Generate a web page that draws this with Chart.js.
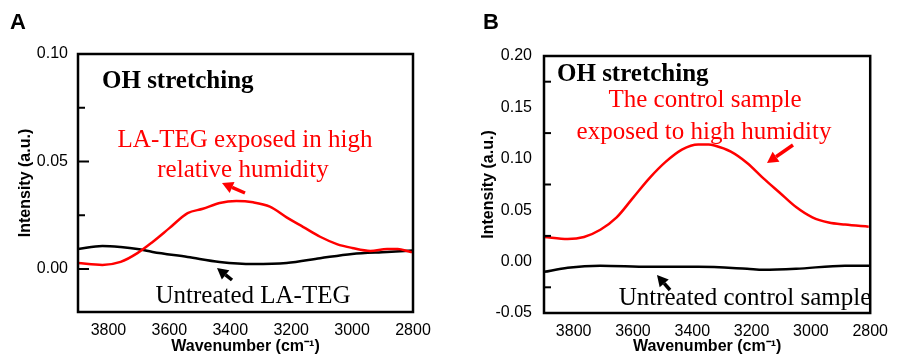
<!DOCTYPE html>
<html>
<head>
<meta charset="utf-8">
<script src="https://cdn.jsdelivr.net/npm/chart.js@4"></script>
<style>
  html, body { margin: 0; padding: 0; background: #fff; overflow: hidden; }
  #wrap { position: relative; width: 897px; height: 356px; }
  .panel { position: absolute; top: 0; height: 356px; }
  #pa { left: 0; width: 450px; }
  #pb { left: 450px; width: 447px; }
</style>
</head>
<body>
<div id="wrap">
  <div class="panel" id="pa"><canvas id="chartA"></canvas></div>
  <div class="panel" id="pb"><canvas id="chartB"></canvas></div>
</div>
<script>
// === DATA ===
const xTicks = [3800, 3600, 3400, 3200, 3000, 2800];

// panel A
const wnRedA = [3900, 3820, 3760, 3705, 3655, 3600, 3540, 3490, 3435, 3380, 3325, 3270, 3215, 3160, 3105, 3050, 3000, 2940, 2885, 2850, 2810, 2800];
const redA = [0.0028, 0.0019, 0.0033, 0.0074, 0.0126, 0.019, 0.026, 0.028, 0.0307, 0.0316, 0.031, 0.029, 0.024, 0.0195, 0.015, 0.0116, 0.0098, 0.0084, 0.0093, 0.0093, 0.008, 0.0078];
const wnBlackA = [3900, 3820, 3760, 3705, 3655, 3540, 3435, 3325, 3215, 3105, 3000, 2885, 2800];
const blackA = [0.0093, 0.0107, 0.0102, 0.0093, 0.0079, 0.0056, 0.0033, 0.0023, 0.0028, 0.005, 0.007, 0.0079, 0.0086];
const yTicksA = [0, 0.05, 0.10];
const yMarksA = [0.075, 0.025];
const yMajorMarksA = [0.05, 0];

// panel B
const wnRedB = [3900, 3820, 3765, 3710, 3655, 3600, 3545, 3490, 3435, 3380, 3345, 3325, 3270, 3215, 3160, 3105, 3050, 2995, 2940, 2885, 2805];
const redB = [0.024, 0.022, 0.024, 0.031, 0.043, 0.062, 0.081, 0.097, 0.109, 0.114, 0.114, 0.113, 0.107, 0.096, 0.081, 0.067, 0.053, 0.043, 0.038, 0.036, 0.034];
const wnBlackB = [3900, 3820, 3710, 3545, 3380, 3215, 3160, 3050, 2885, 2800];
const blackB = [-0.010, -0.006, -0.004, -0.005, -0.005, -0.007, -0.008, -0.007, -0.004, -0.004];
const yTicksB = [-0.05, 0, 0.05, 0.10, 0.15, 0.20];
const yMarksB = [0.175, 0.125, 0.075, 0.025, -0.025];

const SANS = "'Liberation Sans', Arial, sans-serif";
const SERIF = "'Liberation Serif', 'Times New Roman', serif";

const toPts = (xs, ys) => xs.map((x, i) => ({ x: x, y: ys[i] }));

const drawArrow = (ctx, x1, y1, x2, y2, color) => {
    const ang = Math.atan2(y2 - y1, x2 - x1);
    const head = 11, half = 6;
    const bx = x2 - head * Math.cos(ang), by = y2 - head * Math.sin(ang);
    ctx.save();
    ctx.strokeStyle = color;
    ctx.fillStyle = color;
    ctx.lineWidth = 3.5;
    ctx.beginPath();
    ctx.moveTo(x1, y1);
    ctx.lineTo(bx, by);
    ctx.stroke();
    ctx.beginPath();
    ctx.moveTo(x2, y2);
    ctx.lineTo(bx + half * Math.sin(ang), by - half * Math.cos(ang));
    ctx.lineTo(bx - half * Math.sin(ang), by + half * Math.cos(ang));
    ctx.closePath();
    ctx.fill();
    ctx.restore();
};

// frame, inward ticks, panel letter, notes and arrows
const decoPlugin = {
    id: 'deco',
    afterDatasetsDraw(chart, args, opts) {
        const ctx = chart.ctx;
        const a = chart.chartArea;
        const ys = chart.scales.y;
        ctx.save();
        ctx.strokeStyle = '#000';
        ctx.lineWidth = 2.5;
        ctx.strokeRect(a.left, a.top, a.right - a.left, a.bottom - a.top);
        ctx.lineWidth = 2;
        (opts.marks || []).forEach(v => {
            const py = ys.getPixelForValue(v);
            ctx.beginPath(); ctx.moveTo(a.left, py); ctx.lineTo(a.left + 7, py); ctx.stroke();
        });
        (opts.majorMarks || []).forEach(v => {
            const py = ys.getPixelForValue(v);
            ctx.beginPath(); ctx.moveTo(a.left, py); ctx.lineTo(a.left + 11, py); ctx.stroke();
        });
        ctx.textBaseline = 'middle';
        ctx.fillStyle = '#000';
        ctx.textAlign = 'left';
        ctx.font = 'bold 22px ' + SANS;
        ctx.fillText(opts.letter, opts.letterX, 23);
        (opts.notes || []).forEach(n => {
            ctx.font = n.font;
            ctx.fillStyle = n.color;
            ctx.textAlign = n.align;
            ctx.fillText(n.text, n.x, n.y);
        });
        ctx.restore();
        (opts.arrows || []).forEach(ar => drawArrow(ctx, ar[0], ar[1], ar[2], ar[3], ar[4]));
    }
};

const makePanel = (id, p) => {
    const ctx = document.getElementById(id).getContext('2d');
    return new Chart(ctx, {
        type: 'line',
        data: {
            datasets: [
                { data: toPts(p.wnRed, p.red), borderColor: '#ff0000', borderWidth: 2.5, pointRadius: 0, tension: 0.4, cubicInterpolationMode: 'monotone' },
                { data: toPts(p.wnBlack, p.black), borderColor: '#000000', borderWidth: 2.5, pointRadius: 0, tension: 0.4, cubicInterpolationMode: 'monotone' }
            ]
        },
        options: {
            responsive: true,
            maintainAspectRatio: false,
            animation: false,
            events: [],
            layout: { padding: { top: p.top, right: p.right, left: 0, bottom: 0 } },
            plugins: {
                legend: { display: false },
                tooltip: { enabled: false },
                deco: p.deco
            },
            scales: {
                x: {
                    type: 'linear',
                    reverse: true,
                    min: 2800,
                    max: 3900,
                    afterBuildTicks: s => { s.ticks = xTicks.map(v => ({ value: v })); },
                    afterFit: s => { s.height = p.xHeight; },
                    grid: { display: false, drawTicks: false },
                    border: { display: false },
                    ticks: { color: '#000', font: { family: SANS, size: 16 }, padding: 9, maxRotation: 0, autoSkip: false, callback: v => String(v) },
                    title: { display: true, text: 'Wavenumber (cm\u207B\u00B9)', color: '#000', font: { family: SANS, size: 16, weight: 'bold' }, padding: { top: 0, bottom: 0 } }
                },
                y: {
                    min: p.yMin,
                    max: p.yMax,
                    afterBuildTicks: s => { s.ticks = p.yTicks.map(v => ({ value: v })); },
                    afterFit: s => { s.width = p.yWidth; },
                    grid: { display: false, drawTicks: false },
                    border: { display: false },
                    ticks: { color: '#000', font: { family: SANS, size: 16 }, padding: p.yPad, callback: v => v.toFixed(2), autoSkip: false },
                    title: { display: true, text: 'Intensity (a.u.)', color: '#000', font: { family: SANS, size: 16, weight: 'bold' }, padding: { top: p.titlePad, bottom: 0 } }
                }
            }
        },
        plugins: [decoPlugin]
    });
};

const redFont = '25px ' + SERIF;
const blackFont = '25px ' + SERIF;
const boldFont = 'bold 25px ' + SERIF;

makePanel('chartA', {
    wnRed: wnRedA, red: redA, wnBlack: wnBlackA, black: blackA,
    yMin: -0.02, yMax: 0.10, yTicks: yTicksA,
    top: 54, right: 37, xHeight: 44, yWidth: 78, yPad: 10, titlePad: 16,
    deco: {
        letter: 'A', letterX: 10,
        marks: yMarksA, majorMarks: yMajorMarksA,
        notes: [
            { text: 'OH stretching', x: 102, y: 82, font: boldFont, color: '#000', align: 'left' },
            { text: 'LA-TEG exposed in high', x: 245, y: 140, font: redFont, color: '#ff0000', align: 'center' },
            { text: 'relative humidity', x: 243, y: 170, font: redFont, color: '#ff0000', align: 'center' },
            { text: 'Untreated LA-TEG', x: 253, y: 296, font: blackFont, color: '#000', align: 'center' }
        ],
        arrows: [
            [245, 193, 222, 183, '#ff0000'],
            [232, 280, 217, 268, '#000']
        ]
    }
});

makePanel('chartB', {
    wnRed: wnRedB, red: redB, wnBlack: wnBlackB, black: blackB,
    yMin: -0.05, yMax: 0.20, yTicks: yTicksB,
    top: 56, right: 20, xHeight: 43, yWidth: 94, yPad: 12, titlePad: 29,
    deco: {
        letter: 'B', letterX: 33,
        marks: yMarksB,
        notes: [
            { text: 'OH stretching', x: 107, y: 75, font: boldFont, color: '#000', align: 'left' },
            { text: 'The control sample', x: 255, y: 100, font: redFont, color: '#ff0000', align: 'center' },
            { text: 'exposed to high humidity', x: 254, y: 132, font: redFont, color: '#ff0000', align: 'center' },
            { text: 'Untreated control sample', x: 295, y: 298, font: blackFont, color: '#000', align: 'center' }
        ],
        arrows: [
            [343, 145, 317, 163, '#ff0000'],
            [220, 290, 207, 275, '#000']
        ]
    }
});
</script>
</body>
</html>
